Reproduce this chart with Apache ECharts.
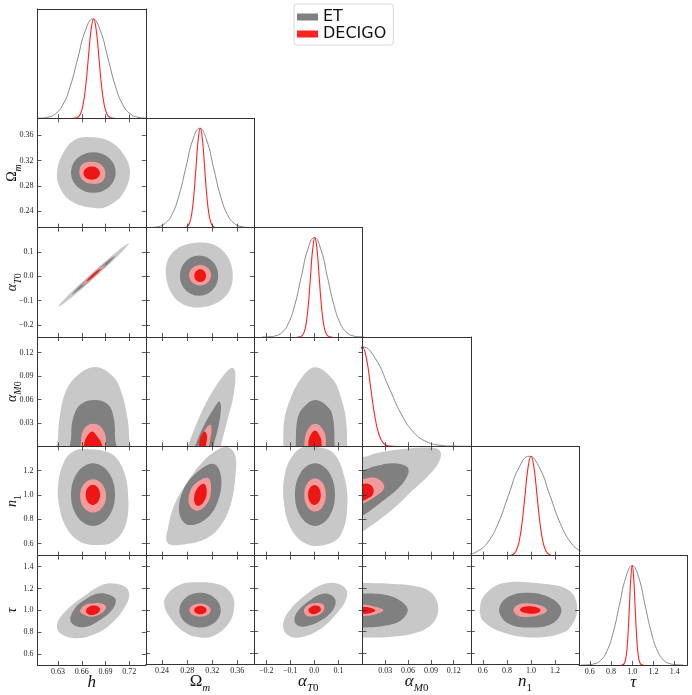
<!doctype html>
<html>
<head>
<meta charset="UTF-8">
<title>ET / DECIGO corner plot</title>
<script src="https://cdn.jsdelivr.net/npm/echarts@6.0.0/dist/echarts.min.js"></script>
<style>
  html, body { margin: 0; padding: 0; background: #fff; }
  #main { width: 692px; height: 695px; }
</style>
</head>
<body>
<div id="main"></div>
<script>
// axis limits per parameter: h, Omega_m, alpha_T0, alpha_M0, n1, tau
var xRange = [[0.604, 0.741], [0.214, 0.387], [-0.25, 0.2], [0, 0.1425], [0.5, 1.4], [0.5, 1.52]];
var yRange = [[0, 1.1], [0.214, 0.387], [-0.25, 0.2], [0, 0.14], [0.5, 1.4], [0.5, 1.5]];
var ticks = [
    [0.63, 0.66, 0.69, 0.72],
    [0.24, 0.28, 0.32, 0.36],
    [-0.2, -0.1, 0.0, 0.1],
    [0.03, 0.06, 0.09, 0.12],
    [0.6, 0.8, 1.0, 1.2],
    [0.6, 0.8, 1.0, 1.2, 1.4]
];
var tickDigits = [2, 2, 1, 2, 1, 1];
var axisNames = ['{i|h}', '{u|Ω}{si|m}', '{i|α}{si|T}{su|0}', '{i|α}{si|M}{su|0}', '{i|n}{su|1}', '{i|τ}'];

// 1D marginals (peak = 1)
var profile = [0.0003, 0.0022, 0.0111, 0.0439, 0.1353, 0.3247, 0.6065, 0.8825, 1, 0.8825, 0.6065, 0.3247, 0.1353, 0.0439, 0.0111, 0.0022, 0.0003];
var hET  = [0.598, 0.6075, 0.617, 0.6265, 0.636, 0.6455, 0.655, 0.6645, 0.674, 0.6835, 0.693, 0.7025, 0.712, 0.7215, 0.731, 0.7405, 0.750];
var hDE  = [0.6482, 0.65155, 0.6549, 0.65825, 0.6616, 0.66495, 0.6683, 0.67165, 0.675, 0.67835, 0.6817, 0.68505, 0.6884, 0.69175, 0.6951, 0.69845, 0.7018];
var omET = [0.212, 0.223, 0.234, 0.245, 0.256, 0.267, 0.278, 0.289, 0.300, 0.311, 0.322, 0.333, 0.344, 0.355, 0.366, 0.377, 0.388];
var omDE = [0.2734, 0.27685, 0.2803, 0.28375, 0.2872, 0.29065, 0.2941, 0.29755, 0.301, 0.30445, 0.3079, 0.31135, 0.3148, 0.31825, 0.3217, 0.32515, 0.3286];
var atET = [-0.216, -0.189, -0.162, -0.135, -0.108, -0.081, -0.054, -0.027, 0, 0.027, 0.054, 0.081, 0.108, 0.135, 0.162, 0.189, 0.216];
var atDE = [-0.070, -0.061, -0.052, -0.043, -0.034, -0.025, -0.016, -0.007, 0.002, 0.011, 0.020, 0.029, 0.038, 0.047, 0.056, 0.065, 0.074];
var amETx = [-0.017, 0, 0.017, 0.034, 0.051, 0.068, 0.085, 0.102, 0.119, 0.136, 0.153];
var amETy = [0.8825, 1, 0.8825, 0.6065, 0.3247, 0.1353, 0.0439, 0.0111, 0.0022, 0.0003, 0.00004];
var amDEx = [-0.00525, 0, 0.00525, 0.0105, 0.01575, 0.021, 0.02625, 0.0315, 0.03675, 0.042];
var amDEy = [0.8825, 1, 0.8825, 0.6065, 0.3247, 0.1353, 0.0439, 0.0111, 0.0022, 0.0003];
var n1ET = [0.297, 0.383, 0.469, 0.555, 0.641, 0.727, 0.813, 0.899, 0.985, 1.071, 1.157, 1.243, 1.329, 1.415, 1.501, 1.587, 1.673];
var n1DE = [0.80, 0.825, 0.85, 0.875, 0.90, 0.925, 0.95, 0.975, 1.0, 1.025, 1.05, 1.075, 1.10, 1.125, 1.15, 1.175, 1.20];
var tauET = [0.52, 0.58, 0.64, 0.70, 0.76, 0.82, 0.88, 0.94, 1.0, 1.06, 1.12, 1.18, 1.24, 1.30, 1.36, 1.42, 1.48];
var tauDE = [0.896, 0.909, 0.922, 0.935, 0.948, 0.961, 0.974, 0.987, 1.0, 1.013, 1.026, 1.039, 1.052, 1.065, 1.078, 1.091, 1.104];

// 2D contours: [ET 95%, ET 68%, DECIGO 95%, DECIGO 68%], points as [x, y]
var hOm = [
    [[0.6683,0.3575],[0.6957,0.3505],[0.7147,0.3267],[0.7210,0.3003],[0.7125,0.2686],[0.6957,0.2500],[0.6789,0.2448],[0.6473,0.2553],[0.6316,0.2791],[0.6290,0.3056],[0.6388,0.3373],[0.6514,0.3532]],
    [[0.7028,0.3013],[0.6945,0.3241],[0.6746,0.3335],[0.6547,0.3241],[0.6464,0.3013],[0.6547,0.2785],[0.6746,0.2691],[0.6945,0.2785]],
    [[0.6898,0.3008],[0.6849,0.3131],[0.6733,0.3183],[0.6605,0.3145],[0.6569,0.3008],[0.6617,0.2885],[0.6733,0.2833],[0.6861,0.2871]],
    [[0.6831,0.3003],[0.6800,0.3078],[0.6726,0.3109],[0.6652,0.3078],[0.6621,0.3003],[0.6652,0.2928],[0.6726,0.2897],[0.6800,0.2928]]
];
var hAt = [
    [[0.7197,0.1354],[0.7082,0.0917],[0.6772,-0.0030],[0.6450,-0.0929],[0.6303,-0.1254],[0.6419,-0.0817],[0.6728,0.0130],[0.7051,0.1029]],
    [[0.7023,0.0846],[0.6952,0.0580],[0.6763,0.0004],[0.6566,-0.0546],[0.6477,-0.0746],[0.6548,-0.0481],[0.6737,0.0096],[0.6934,0.0646]],
    [[0.6901,0.0489],[0.6864,0.0334],[0.6760,0.0013],[0.6651,-0.0286],[0.6599,-0.0389],[0.6637,-0.0234],[0.6740,0.0087],[0.6849,0.0386]],
    [[0.6839,0.0311],[0.6819,0.0215],[0.6758,0.0022],[0.6692,-0.0154],[0.6661,-0.0211],[0.6681,-0.0115],[0.6742,0.0078],[0.6808,0.0254]]
];
var omAt = [
    [[0.2953,0.1382],[0.3325,0.1152],[0.3522,0.0259],[0.3432,-0.0771],[0.3033,-0.1277],[0.2634,-0.0977],[0.2458,0.0123],[0.2579,0.1012]],
    [[0.3296,0.0024],[0.3206,0.0611],[0.2990,0.0854],[0.2774,0.0611],[0.2684,0.0024],[0.2774,-0.0563],[0.2990,-0.0806],[0.3206,-0.0563]],
    [[0.3182,0.0040],[0.3130,0.0340],[0.3006,0.0465],[0.2882,0.0340],[0.2830,0.0040],[0.2882,-0.0260],[0.3006,-0.0385],[0.3130,-0.0260]],
    [[0.3101,0.0024],[0.3074,0.0209],[0.3008,0.0285],[0.2942,0.0209],[0.2915,0.0024],[0.2942,-0.0161],[0.3008,-0.0237],[0.3074,-0.0161]]
];
var hAm = [
    [[0.6297,-0.015],[0.6300,0.012],[0.6316,0.0339],[0.6388,0.0680],[0.6527,0.0892],[0.6767,0.1016],[0.6999,0.0892],[0.7105,0.0680],[0.7181,0.0339],[0.7198,0.012],[0.7201,-0.015]],
    [[0.6462,-0.015],[0.6466,0.012],[0.6485,0.0339],[0.6578,0.0531],[0.6759,0.0594],[0.6936,0.0531],[0.7008,0.0339],[0.7020,0.012],[0.7024,-0.015]],
    [[0.6587,-0.01],[0.6590,0.005],[0.6599,0.0147],[0.6650,0.0250],[0.6746,0.0288],[0.6840,0.0250],[0.6898,0.0147],[0.6905,0.005],[0.6907,-0.01]],
    [[0.6628,-0.008],[0.6632,0.004],[0.6662,0.0120],[0.6731,0.0189],[0.6800,0.0120],[0.6848,0.004],[0.6852,-0.008]]
];
var omAm = [
    [[0.2734,-0.015],[0.2809,0],[0.2999,0.0381],[0.3218,0.0722],[0.3432,0.0956],[0.3528,0.1007],[0.3570,0.0936],[0.3538,0.0637],[0.3458,0.0381],[0.3336,0],[0.3288,-0.015]],
    [[0.2870,-0.012],[0.2926,0],[0.3059,0.0253],[0.3245,0.0509],[0.3314,0.0573],[0.3341,0.0488],[0.3298,0.0253],[0.3218,0],[0.3190,-0.012]],
    [[0.2960,-0.01],[0.2979,0],[0.3033,0.0125],[0.3120,0.0250],[0.3177,0.0275],[0.3190,0.0200],[0.3182,0.0147],[0.3150,0],[0.3140,-0.01]],
    [[0.2985,-0.008],[0.2990,0],[0.2999,0.0083],[0.3050,0.0170],[0.3086,0.0189],[0.3118,0.0125],[0.3097,0],[0.3090,-0.008]]
];
var atAm = [
    [[-0.1300,-0.015],[-0.1291,0],[-0.1249,0.0339],[-0.1013,0.0594],[-0.0597,0.0850],[0.0026,0.1012],[0.0787,0.0850],[0.1136,0.0594],[0.1315,0.0339],[0.1368,0],[0.1375,-0.015]],
    [[-0.0790,-0.012],[-0.0776,0],[-0.0709,0.0339],[-0.0485,0.0488],[0.0039,0.0594],[0.0608,0.0488],[0.0787,0.0339],[0.0845,0],[0.0855,-0.012]],
    [[-0.0425,-0.01],[-0.0418,0],[-0.0360,0.0147],[-0.0180,0.0255],[0.0039,0.0288],[0.0260,0.0255],[0.0454,0.0147],[0.0483,0],[0.0490,-0.01]],
    [[-0.0258,-0.008],[-0.0252,0],[-0.0211,0.0105],[0.0026,0.0202],[0.0263,0.0105],[0.0305,0],[0.0311,-0.008]]
];
var hN = [
    [[0.6641,1.3769],[0.6957,1.3440],[0.7125,1.2063],[0.7189,0.9591],[0.7147,0.7390],[0.6999,0.6154],[0.6789,0.5882],[0.6578,0.6154],[0.6409,0.7258],[0.6316,0.9038],[0.6303,1.0967],[0.6388,1.2887],[0.6493,1.3571]],
    [[0.7020,1.0027],[0.6939,1.1851],[0.6742,1.2607],[0.6545,1.1851],[0.6464,1.0027],[0.6545,0.8203],[0.6742,0.7447],[0.6939,0.8203]],
    [[0.6907,0.9920],[0.6858,1.0891],[0.6742,1.1293],[0.6626,1.0891],[0.6578,0.9920],[0.6626,0.8949],[0.6742,0.8547],[0.6858,0.8949]],
    [[0.6831,1.0003],[0.6804,1.0586],[0.6740,1.0827],[0.6676,1.0586],[0.6649,1.0003],[0.6676,0.9420],[0.6740,0.9179],[0.6804,0.9420]]
];
var omN = [
    [[0.3432,1.3934],[0.3565,1.3299],[0.3565,1.1239],[0.3485,0.9038],[0.3325,0.7390],[0.3113,0.6434],[0.2793,0.5964],[0.2490,0.6019],[0.2499,0.7390],[0.2606,0.9319],[0.2793,1.0967],[0.3006,1.2475],[0.3218,1.3489]],
    [[0.3218,1.2558],[0.3341,1.1511],[0.3298,0.9591],[0.3113,0.8082],[0.2819,0.7530],[0.2675,0.8494],[0.2739,1.0415],[0.2953,1.1841]],
    [[0.3138,1.1379],[0.3182,1.0687],[0.3138,0.9450],[0.2979,0.8709],[0.2835,0.9178],[0.2857,1.0415],[0.2995,1.1181]],
    [[0.3070,1.0909],[0.3113,1.0143],[0.3049,0.9319],[0.2953,0.9121],[0.2910,0.9648],[0.2953,1.0472]]
];
var atN = [
    [[0.0026,1.3984],[0.0787,1.3440],[0.1244,1.1511],[0.1368,0.9038],[0.1094,0.6706],[0.0442,0.5882],[-0.0319,0.5964],[-0.0942,0.7118],[-0.1262,0.9319],[-0.1220,1.1791],[-0.0875,1.3299],[-0.0460,1.3934]],
    [[0.0857,1.0027],[0.0614,1.1851],[0.0026,1.2607],[-0.0562,1.1851],[-0.0805,1.0027],[-0.0562,0.8203],[0.0026,0.7447],[0.0614,0.8203]],
    [[0.0480,1.0],[0.0348,1.0971],[0.0031,1.1373],[-0.0286,1.0971],[-0.0418,1.0],[-0.0286,0.9029],[0.0031,0.8627],[0.0348,0.9029]],
    [[0.0266,1.0],[0.0189,1.0583],[0.0004,1.0824],[-0.0181,1.0583],[-0.0258,1.0],[-0.0181,0.9417],[0.0004,0.9176],[0.0189,0.9417]]
];
var amN = [
    [[-0.012,1.30],[0,1.31],[0.0230,1.350],[0.0537,1.378],[0.0845,1.390],[0.0997,1.375],[0.1033,1.3217],[0.0954,1.2203],[0.0668,1.0415],[0.0362,0.8626],[0,0.6978],[-0.012,0.66]],
    [[-0.012,1.19],[0,1.2005],[0.0187,1.2393],[0.0405,1.2615],[0.0582,1.2335],[0.0603,1.1791],[0.0493,1.0687],[0.0230,0.9319],[0,0.8297],[-0.012,0.80]],
    [[-0.01,1.125],[0,1.1297],[0.0142,1.1428],[0.0253,1.1099],[0.0283,1.0555],[0.0187,0.9945],[0,0.9261],[-0.01,0.91]],
    [[-0.008,1.09],[0,1.0909],[0.0076,1.0909],[0.0142,1.0555],[0.0134,1.0003],[0.0055,0.9648],[0,0.9533],[-0.008,0.95]]
];
var hTau = [
    [[0.6957,1.2475],[0.7147,1.2164],[0.7201,1.1404],[0.7147,1.0334],[0.6999,0.8962],[0.6789,0.7900],[0.6536,0.7443],[0.6325,0.7900],[0.6290,0.8815],[0.6409,1.0032],[0.6619,1.1249],[0.6809,1.2164]],
    [[0.6831,1.1560],[0.7020,1.1102],[0.6999,1.0188],[0.6831,0.9117],[0.6619,0.8449],[0.6460,0.8962],[0.6514,1.0188],[0.6670,1.1102]],
    [[0.6907,1.0242],[0.6831,0.9639],[0.6713,0.9419],[0.6612,0.9666],[0.6578,0.9968],[0.6641,1.0489],[0.6767,1.0645],[0.6872,1.0581]],
    [[0.6831,1.0104],[0.6805,1.0358],[0.6742,1.0434],[0.6679,1.0258],[0.6653,0.9904],[0.6679,0.9650],[0.6742,0.9574],[0.6805,0.9750]]
];
var omTau = [
    [[0.2846,1.2530],[0.3325,1.2319],[0.3528,1.1249],[0.3538,0.9730],[0.3432,0.8504],[0.3218,0.7589],[0.3006,0.7443],[0.2766,0.7900],[0.2527,0.9273],[0.2431,1.0581],[0.2499,1.1560],[0.2659,1.2255]],
    [[0.3336,0.9968],[0.3239,1.1100],[0.3006,1.1569],[0.2773,1.1100],[0.2676,0.9968],[0.2773,0.8836],[0.3006,0.8367],[0.3239,0.8836]],
    [[0.3177,0.9968],[0.3127,1.0401],[0.3006,1.0581],[0.2885,1.0401],[0.2835,0.9968],[0.2885,0.9535],[0.3006,0.9355],[0.3127,0.9535]],
    [[0.3110,0.9968],[0.3081,1.0240],[0.3011,1.0352],[0.2941,1.0240],[0.2912,0.9968],[0.2941,0.9696],[0.3011,0.9584],[0.3081,0.9696]]
];
var atTau = [
    [[0.0857,1.2475],[0.1315,1.1926],[0.1315,1.0947],[0.0953,0.9730],[0.0234,0.8202],[-0.0597,0.7443],[-0.1150,0.7745],[-0.1291,0.8815],[-0.0942,1.0188],[-0.0252,1.1560],[0.0305,1.2319]],
    [[0.0442,1.1496],[0.0857,1.1011],[0.0787,1.0032],[0.0234,0.8962],[-0.0460,0.8449],[-0.0805,0.8815],[-0.0734,0.9730],[-0.0182,1.0883]],
    [[0.0371,1.0489],[0.0371,0.9876],[0.0026,0.9419],[-0.0348,0.9510],[-0.0418,1.0096],[-0.0111,1.0581]],
    [[0.0273,1.0004],[0.0197,1.0320],[0.0013,1.0404],[-0.0171,1.0220],[-0.0247,1.0004],[-0.0171,0.9688],[0.0013,0.9604],[0.0197,0.9788]]
];
var amTau = [
    [[-0.012,1.2475],[0,1.2475],[0.0362,1.2411],[0.0713,1.2164],[0.0911,1.1560],[0.0997,1.0188],[0.0932,0.8815],[0.0713,0.7900],[0.0362,0.7498],[0,0.7443],[-0.012,0.7443]],
    [[-0.012,1.1496],[0,1.1496],[0.0274,1.1404],[0.0471,1.0947],[0.0595,1.0032],[0.0493,0.8962],[0.0274,0.8504],[0,0.8358],[-0.012,0.8358]],
    [[-0.01,1.0489],[0,1.0489],[0.0142,1.0334],[0.0274,0.9968],[0.0164,0.9575],[0,0.9419],[-0.01,0.9419]],
    [[-0.008,1.0279],[0,1.0279],[0.0099,1.0188],[0.0168,0.9940],[0.0099,0.9693],[0,0.9638],[-0.008,0.9638]]
];
var nTau = [
    [[0.7698,1.2475],[1.1018,1.2411],[1.3093,1.1862],[1.3790,1.0645],[1.3649,0.9117],[1.2678,0.7900],[1.0188,0.7443],[0.7698,0.7900],[0.6038,0.8962],[0.5764,1.0188],[0.6179,1.1404]],
    [[1.2529,0.9968],[1.1770,1.1000],[0.9939,1.1569],[0.8108,1.1200],[0.7349,0.9968],[0.8108,0.8736],[0.9939,0.8367],[1.1770,0.8736]],
    [[1.1333,0.9968],[1.0925,1.0350],[0.9939,1.0581],[0.8953,1.0500],[0.8545,0.9968],[0.8953,0.9436],[0.9939,0.9355],[1.0925,0.9586]],
    [[1.0794,0.9984],[1.0544,1.0200],[0.9939,1.0332],[0.9334,1.0270],[0.9084,0.9984],[0.9334,0.9768],[0.9939,0.9636],[1.0544,0.9698]]
];
</script>

<script>
    var chart = echarts.init(document.getElementById('main'), null, {renderer: 'canvas'});

    var fills = ['#c8c8c8', '#808080', '#f29b9b', '#ee1515'];
    var serif = 'Liberation Serif, DejaVu Serif, serif';
    var etLine = '#8a8a8a', deLine = '#ff2222';

    // which marginal goes on which diagonal panel
    var diagET = [[hET, profile], [omET, profile], [atET, profile], [amETx, amETy], [n1ET, profile], [tauET, profile]];
    var diagDE = [[hDE, profile], [omDE, profile], [atDE, profile], [amDEx, amDEy], [n1DE, profile], [tauDE, profile]];
    // lower triangle, row by row
    var lower = {
        '1,0': hOm,
        '2,0': hAt, '2,1': omAt,
        '3,0': hAm, '3,1': omAm, '3,2': atAm,
        '4,0': hN, '4,1': omN, '4,2': atN, '4,3': amN,
        '5,0': hTau, '5,1': omTau, '5,2': atTau, '5,3': amTau, '5,4': nTau
    };

    var left0 = 37.5, top0 = 9, pw = 108.33, ph = 109.33;

    function fmt(d) {
        return function (v) {
            return (v < -1e-9 ? '\u2212' : '') + Math.abs(v).toFixed(d);
        };
    }

    function rich(big, small) {
        return {
            i:  {fontFamily: serif, fontStyle: 'italic', fontSize: big, lineHeight: big + 8, verticalAlign: 'middle', color: '#111'},
            u:  {fontFamily: serif, fontSize: big, lineHeight: big + 8, verticalAlign: 'middle', color: '#111'},
            si: {fontFamily: serif, fontStyle: 'italic', fontSize: small, lineHeight: big + 8, verticalAlign: 'bottom', color: '#111'},
            su: {fontFamily: serif, fontSize: small, lineHeight: big + 8, verticalAlign: 'bottom', color: '#111'}
        };
    }

    var lineStyle = {color: '#333', width: 1};
    var tickStyle = {color: '#333', width: 0.8};

    var grids = [], xAxes = [], yAxes = [], series = [];

    for (var i = 0; i < 6; i++) {
        for (var j = 0; j <= i; j++) {
            var g = grids.length;
            var diag = (i === j);
            grids.push({left: left0 + j * pw, top: top0 + i * ph, width: pw, height: ph});

            var xr = xRange[j];
            var yr = diag ? [0, 1.1] : yRange[i];

            xAxes.push({
                gridIndex: g, type: 'value', position: 'bottom', min: xr[0], max: xr[1], z: 5,
                axisLine: {show: true, onZero: false, lineStyle: lineStyle},
                axisTick: {show: true, inside: true, length: 4, customValues: ticks[j], lineStyle: tickStyle},
                axisLabel: {show: i === 5, customValues: ticks[j], formatter: fmt(tickDigits[j]), margin: 3,
                            fontFamily: serif, fontSize: 8, color: '#222'},
                splitLine: {show: false},
                name: i === 5 ? axisNames[j] : '', nameLocation: 'middle', nameGap: 5, nameMoveOverlap: false,
                nameTextStyle: {rich: rich(17, 11)}
            });
            xAxes.push({
                gridIndex: g, type: 'value', position: 'top', min: xr[0], max: xr[1], z: 5,
                axisLine: {show: true, onZero: false, lineStyle: lineStyle},
                axisTick: {show: !diag, inside: true, length: 4, customValues: ticks[j], lineStyle: tickStyle},
                axisLabel: {show: false},
                splitLine: {show: false}
            });
            var showY = (j === 0 && !diag);
            yAxes.push({
                gridIndex: g, type: 'value', position: 'left', min: yr[0], max: yr[1], z: 5,
                axisLine: {show: true, onZero: false, lineStyle: lineStyle},
                axisTick: {show: !diag, inside: true, length: 4, customValues: ticks[i], lineStyle: tickStyle},
                axisLabel: {show: showY, customValues: ticks[i], formatter: fmt(tickDigits[i]), margin: 4,
                            fontFamily: serif, fontSize: 8, color: '#222'},
                splitLine: {show: false},
                name: showY ? axisNames[i] : '', nameLocation: 'middle', nameRotate: 90, nameGap: 14,
                nameMoveOverlap: false,
                nameTextStyle: {rich: rich(14, 10)}
            });
            yAxes.push({
                gridIndex: g, type: 'value', position: 'right', min: yr[0], max: yr[1], z: 5,
                axisLine: {show: true, onZero: false, lineStyle: lineStyle},
                axisTick: {show: !diag, inside: true, length: 4, customValues: ticks[i], lineStyle: tickStyle},
                axisLabel: {show: false},
                splitLine: {show: false}
            });

            if (diag) {
                [[diagET[i], 'ET', etLine, 1], [diagDE[i], 'DECIGO', deLine, 1.1]].forEach(function (c) {
                    var xs = c[0][0], ys = c[0][1];
                    series.push({
                        type: 'line', name: c[1], xAxisIndex: 2 * g, yAxisIndex: 2 * g,
                        data: xs.map(function (v, k) { return [v, ys[k]]; }),
                        showSymbol: false, smooth: 0.5, clip: true, silent: true,
                        itemStyle: {color: c[2]},
                        lineStyle: {color: c[2], width: c[3]}
                    });
                });
            } else {
                series.push(contourSeries(lower[i + ',' + j], g));
            }
        }
    }

    function contourSeries(polys, g) {
        return {
            type: 'custom', coordinateSystem: 'cartesian2d',
            xAxisIndex: 2 * g, yAxisIndex: 2 * g, clip: true, silent: true,
            data: polys.map(function (p, k) { return [p[0][0], p[0][1], k]; }),
            renderItem: function (params, api) {
                var k = params.dataIndex;
                return {
                    type: 'polygon', z2: k,
                    shape: {points: polys[k].map(function (p) { return api.coord(p); }), smooth: 0.38},
                    style: {fill: fills[k], stroke: null}
                };
            }
        };
    }

    var option = {
        animation: false,
        backgroundColor: '#fff',
        legend: {
            orient: 'vertical', left: 294, top: 4,
            padding: [5, 7, 3, 3], itemGap: 1, itemWidth: 21, itemHeight: 7, icon: 'rect',
            borderColor: '#d8d8d8', borderWidth: 1, borderRadius: 3,
            backgroundColor: 'rgba(255,255,255,0.8)',
            selectedMode: false,
            textStyle: {fontFamily: 'DejaVu Sans', fontSize: 16, color: '#111'},
            data: [
                {name: 'ET', itemStyle: {color: '#808080'}},
                {name: 'DECIGO', itemStyle: {color: '#ff2222'}}
            ]
        },
        grid: grids,
        xAxis: xAxes,
        yAxis: yAxes,
        series: series
    };
    chart.setOption(option);
</script>
</body>
</html>
